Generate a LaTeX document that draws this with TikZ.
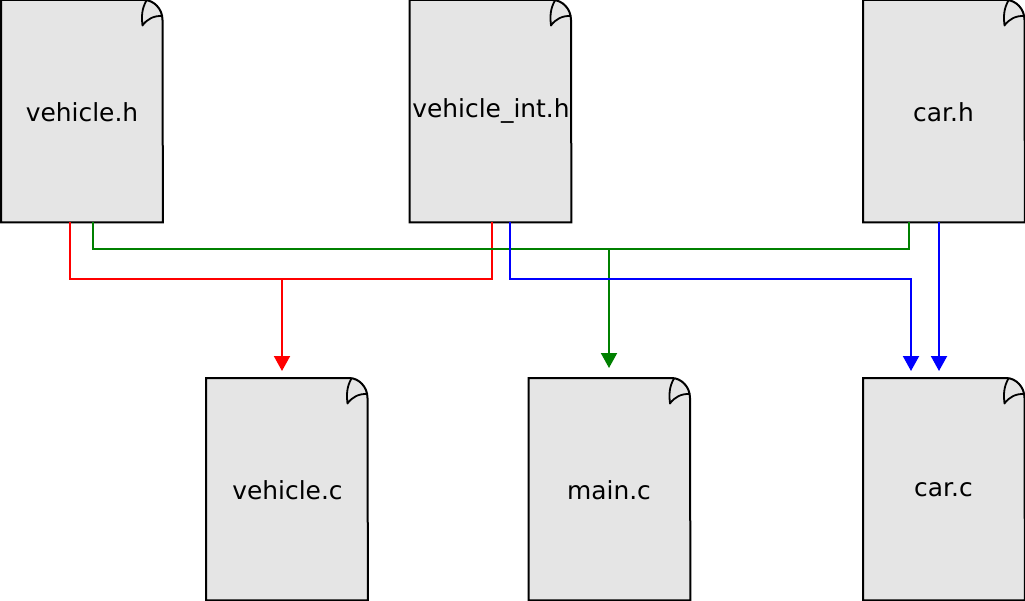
\documentclass[tikz,border=0pt]{standalone}
\usepackage{fontspec}
\setmainfont{DejaVu Sans}
\usetikzlibrary{arrows.meta,calc}
\definecolor{docgray}{HTML}{E5E5E5}
\definecolor{wirered}{HTML}{FF0000}
\definecolor{wiregreen}{HTML}{008000}
\definecolor{wireblue}{HTML}{0000FF}
\tikzset{
  docbody/.style={draw=black,fill=docgray,line width=2bp},
  docfold/.style={draw=black,line width=1.8bp},
  doclabel/.style={font=\fontsize{25}{30}\selectfont,anchor=base,inner sep=0pt,text=black},
  docanchor/.style={minimum width=161.5bp,minimum height=222bp,inner sep=0pt,anchor=north west},
  wire/.style={line width=2bp},
  tipped/.style={wire,-{Triangle[width=16bp,length=15bp]}}
}
\newcommand{\docpage}[6]{%
  \node[docanchor] (#1) at (#2,#3) {};
  \draw[docbody] (#1.north west) -- ($(#1.north west)+(143,0)$)
     .. controls ($(#1.north west)+(153,0)$) and ($(#1.north west)+(161.5,9)$) .. ($(#1.north west)+(161.5,20)$)
     -- (#1.south east) -- (#1.south west) -- cycle;
  \draw[docfold,line join=round] ($(#1.north west)+(145.5,0.5)$)
     .. controls ($(#1.north west)+(140.5,9)$) and ($(#1.north west)+(140.5,17)$) .. ($(#1.north west)+(141.5,25.5)$)
     .. controls ($(#1.north west)+(146,19)$) and ($(#1.north west)+(153,15.5)$) .. ($(#1.north west)+(161.5,16)$);
  \node[doclabel] (#1label) at (#4,#5) {#6};
}
\begin{document}
\begin{tikzpicture}[x=1bp,y=-1bp]
\useasboundingbox (0,0) rectangle (1025,601);
\docpage{vh}{1}{0}{82}{122}{vehicle.h}
\docpage{vi}{409.5}{0}{491}{118}{vehicle\_int.h}
\docpage{ch}{863}{0}{943.5}{122}{car.h}
\docpage{vc}{206}{378}{287.5}{499}{vehicle.c}
\docpage{mc}{528.5}{378}{609}{499}{main.c}
\docpage{cc}{863}{378}{943.5}{496}{car.c}
% free ends just above the target pages
\coordinate (redtip) at ($(vc.north west)+(76,-7)$);
\coordinate (greentip) at ($(mc.north west)+(80.5,-10)$);
\coordinate (bluetipA) at ($(cc.north west)+(48,-7)$);
\coordinate (bluetipB) at ($(cc.north west)+(76,-7)$);
\coordinate (vhred) at ($(vh.south west)+(69,0)$);
\coordinate (vhgreen) at ($(vh.south west)+(92,0)$);
\coordinate (vired) at ($(vi.south west)+(82.5,0)$);
\coordinate (viblue) at ($(vi.south west)+(100.5,0)$);
\coordinate (chgreen) at ($(ch.south west)+(46,0)$);
\coordinate (chblue) at ($(ch.south west)+(76,0)$);
\draw[wire,wirered] (vhred) -- ++(0,57) -| (vired);
\draw[tipped,wirered] (redtip |- 0,279) -- (redtip);
\draw[wire,wiregreen] (vhgreen) -- ++(0,27) -| (chgreen);
\draw[tipped,wiregreen] (greentip |- 0,249) -- (greentip);
\draw[tipped,wireblue] (viblue) -- ++(0,57) -| (bluetipA);
\draw[tipped,wireblue] (chblue) -- (bluetipB);
\end{tikzpicture}
\end{document}
